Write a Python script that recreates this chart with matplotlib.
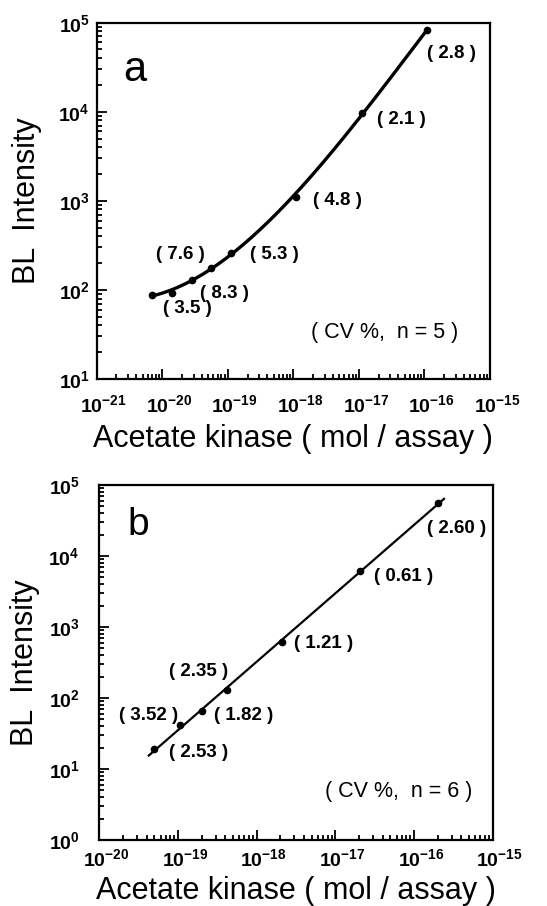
import numpy as np
import matplotlib.pyplot as plt
from matplotlib.ticker import LogLocator, FixedLocator, NullFormatter
from matplotlib.transforms import ScaledTranslation

plt.rcParams['font.family'] = ['Liberation Sans', 'DejaVu Sans']
plt.rcParams['mathtext.fontset'] = 'custom'
plt.rcParams['mathtext.rm'] = 'Liberation Sans'
plt.rcParams['mathtext.bf'] = 'Liberation Sans:bold'

# panel a: acetate kinase calibration, CV % in brackets
a_amount = [7e-21, 1.4e-20, 2.8e-20, 5.5e-20, 1.1e-19, 1.1e-18, 1.1e-17, 1.1e-16]
a_signal = [88, 92, 130, 178, 260, 1100, 9800, 82000]
a_cv = ['3.5', '8.3', '7.6', '5.3', '4.8', '2.1', '2.8']

# panel b
b_amount = [5e-20, 1.05e-19, 2.05e-19, 4.2e-19, 2.1e-18, 2.05e-17, 2e-16]
b_signal = [19, 42, 66, 128, 610, 6100, 56000]
b_cv = ['2.53', '3.52', '1.82', '2.35', '1.21', '0.61', '2.60']

fig = plt.figure(figsize=(5.47, 9.06), dpi=100)
ax_a = fig.add_axes([0.1768, 0.5817, 0.719, 0.3933])
ax_b = fig.add_axes([0.1815, 0.0728, 0.7192, 0.3918])


def style_axis(ax, xdec, ydec, xpad, ypad, ylabpad, xlabpad):
    ax.set_xscale('log')
    ax.set_yscale('log')
    ax.set_xlim(10.0 ** xdec[0], 10.0 ** xdec[-1])
    ax.set_ylim(10.0 ** ydec[0], 10.0 ** ydec[-1])
    ax.xaxis.set_major_locator(FixedLocator([10.0 ** d for d in xdec]))
    ax.yaxis.set_major_locator(FixedLocator([10.0 ** d for d in ydec]))
    ax.set_xticklabels([r'$\mathbf{10^{%d}}$' % d for d in xdec])
    ax.set_yticklabels([r'$\mathbf{10^{%d}}$' % d for d in ydec])
    ax.xaxis.set_minor_locator(LogLocator(base=10, subs=np.arange(2, 10), numticks=20))
    ax.yaxis.set_minor_locator(LogLocator(base=10, subs=np.arange(2, 10), numticks=20))
    ax.xaxis.set_minor_formatter(NullFormatter())
    ax.yaxis.set_minor_formatter(NullFormatter())
    ax.tick_params(which='both', direction='in', top=False, right=False,
                   width=1.3, colors='black')
    ax.tick_params(which='major', length=7, labelsize=14)
    ax.tick_params(axis='x', which='major', pad=xpad)
    ax.tick_params(axis='y', which='major', pad=ypad)
    ax.tick_params(which='minor', length=3.5)
    # exponent hangs to the right of the "10"
    shift = ScaledTranslation(5 / 72, 0, fig.dpi_scale_trans)
    for lab in ax.get_xticklabels():
        lab.set_transform(lab.get_transform() + shift)
    for s in ax.spines.values():
        s.set_linewidth(1.6)
    ax.set_ylabel('BL  Intensity', fontsize=22, labelpad=ylabpad)
    ax.set_xlabel('Acetate kinase ( mol / assay )', fontsize=22, labelpad=xlabpad)


style_axis(ax_a, list(range(-21, -14)), list(range(1, 6)), 11, 5, 12, 6)
style_axis(ax_b, list(range(-20, -14)), list(range(0, 6)), 6, 14, 6, 4)

# curve a: cubic through the points in log-log space
la, lsa = np.log10(a_amount), np.log10(a_signal)
coef_a = np.polyfit(la, lsa, 3)
xa = np.linspace(la[0], la[-1], 300)
ax_a.plot(10 ** xa, 10 ** np.polyval(coef_a, xa), color='black', lw=2.4)
ax_a.plot(a_amount, a_signal, 'o', color='black', ms=4.5)

# line b: straight log-log regression
lb, lsb = np.log10(b_amount), np.log10(b_signal)
coef_b = np.polyfit(lb, lsb, 1)
xb = np.linspace(lb[0] - 0.07, lb[-1] + 0.08, 100)
ax_b.plot(10 ** xb, 10 ** np.polyval(coef_b, xb), color='black', lw=1.6)
ax_b.plot(b_amount, b_signal, 'o', color='black', ms=4.5)

# CV labels (axes fractions)
a_pos = [(0.231, 0.198), (0.326, 0.241), (0.212, 0.350), (0.452, 0.348),
         (0.613, 0.502), (0.775, 0.729), (0.903, 0.914)]
b_pos = [(0.252, 0.247), (0.126, 0.352), (0.366, 0.352), (0.253, 0.474),
         (0.571, 0.554), (0.773, 0.742), (0.908, 0.878)]

for ax, cvs, pos in ((ax_a, a_cv, a_pos), (ax_b, b_cv, b_pos)):
    for cv, (px, py) in zip(cvs, pos):
        ax.text(px, py, '( %s )' % cv, transform=ax.transAxes, fontsize=13.5,
                fontweight='bold', ha='center', va='center')

ax_a.text(0.733, 0.130, '( CV %,  n = 5 )', transform=ax_a.transAxes,
          fontsize=15.5, ha='center', va='center')
ax_b.text(0.760, 0.136, '( CV %,  n = 6 )', transform=ax_b.transAxes,
          fontsize=15.5, ha='center', va='center')
ax_a.text(0.097, 0.867, 'a', transform=ax_a.transAxes, fontsize=30,
          ha='center', va='center')
ax_b.text(0.099, 0.887, 'b', transform=ax_b.transAxes, fontsize=28,
          ha='center', va='center')

fig.savefig('out.png', dpi=100)
